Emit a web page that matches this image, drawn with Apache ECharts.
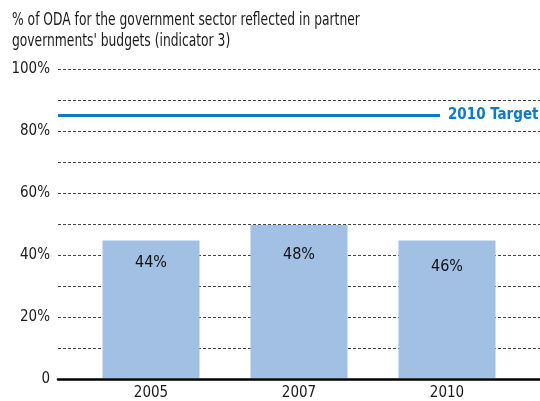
<!DOCTYPE html>
<html>
<head>
<meta charset="utf-8">
<script src="https://cdn.jsdelivr.net/npm/echarts@6/dist/echarts.min.js"></script>
<style>html,body{margin:0;padding:0;background:#fff}#c{width:540px;height:401px}</style>
</head>
<body>
<div id="c"></div>
<script>
const titleLines = ["% of ODA for the government sector reflected in partner", "governments' budgets (indicator 3)"];
const categories = ["2005", "2007", "2010"];
const barValues = [44.5, 49.5, 44.5];
const barLabels = ["44%", "48%", "46%"];
const targetValue = 85;
const targetLabel = "2010 Target";
const yTickLabels = {0: "0", 20: "20%", 40: "40%", 60: "60%", 80: "80%", 100: "100%"};

const FONT = '"DejaVu Sans Condensed", "Liberation Sans", sans-serif';
const labelDist = [14, 22, 18];
const chart = echarts.init(document.getElementById('c'), null, {renderer: 'canvas'});
chart.setOption({
  animation: false,
  backgroundColor: '#fff',
  graphic: [{
    type: 'text', x: 12, y: 10, scaleX: 0.76, silent: true,
    style: {text: titleLines.join('\n'), font: '18px ' + FONT, fill: '#1a1a1a', lineHeight: 21}
  }],
  grid: [
    {left: 58, right: 0, top: 69, bottom: 22},
    {left: 77, width: 444, top: 69, bottom: 22}
  ],
  xAxis: [
    {gridIndex: 0, type: 'value', min: 0, max: 1, axisLabel: {show: false}, axisTick: {show: false}, splitLine: {show: false},
     axisLine: {show: true, lineStyle: {color: '#000', width: 2.5}}},
    {gridIndex: 1, type: 'category', data: categories, axisLine: {show: false}, axisTick: {show: false},
     axisLabel: {fontFamily: FONT, fontSize: 15, color: '#1a1a1a', margin: 8}}
  ],
  yAxis: [
    {gridIndex: 0, type: 'value', min: 0, max: 100, interval: 10,
     axisLine: {show: false}, axisTick: {show: false},
     axisLabel: {fontFamily: FONT, fontSize: 15, color: '#1a1a1a', margin: 8,
       formatter: v => (yTickLabels[v] !== undefined ? yTickLabels[v] : '')},
     splitLine: {show: true, lineStyle: {color: '#444', width: 1, type: [3, 2]}}},
    {gridIndex: 1, type: 'value', min: 0, max: 100, show: false}
  ],
  series: [
    {
      type: 'line', xAxisIndex: 0, yAxisIndex: 0,
      data: [[0, targetValue], [0.7925, targetValue]],
      symbol: 'none', silent: true, z: 5,
      lineStyle: {color: '#0A7CC4', width: 3},
      endLabel: {show: true, formatter: targetLabel, distance: 8,
        fontFamily: FONT, fontSize: 15, fontWeight: 'bold', color: '#0A7CC4'}
    },
    {
      type: 'bar', xAxisIndex: 1, yAxisIndex: 1,
      barWidth: 97, z: 3,
      itemStyle: {color: '#A2BFE4'},
      data: barValues.map((v, i) => ({
        value: v,
        label: {show: true, position: 'insideTop', distance: labelDist[i], formatter: barLabels[i],
          fontFamily: FONT, fontSize: 16, color: '#111'}
      }))
    }
  ]
});
</script>
</body>
</html>
